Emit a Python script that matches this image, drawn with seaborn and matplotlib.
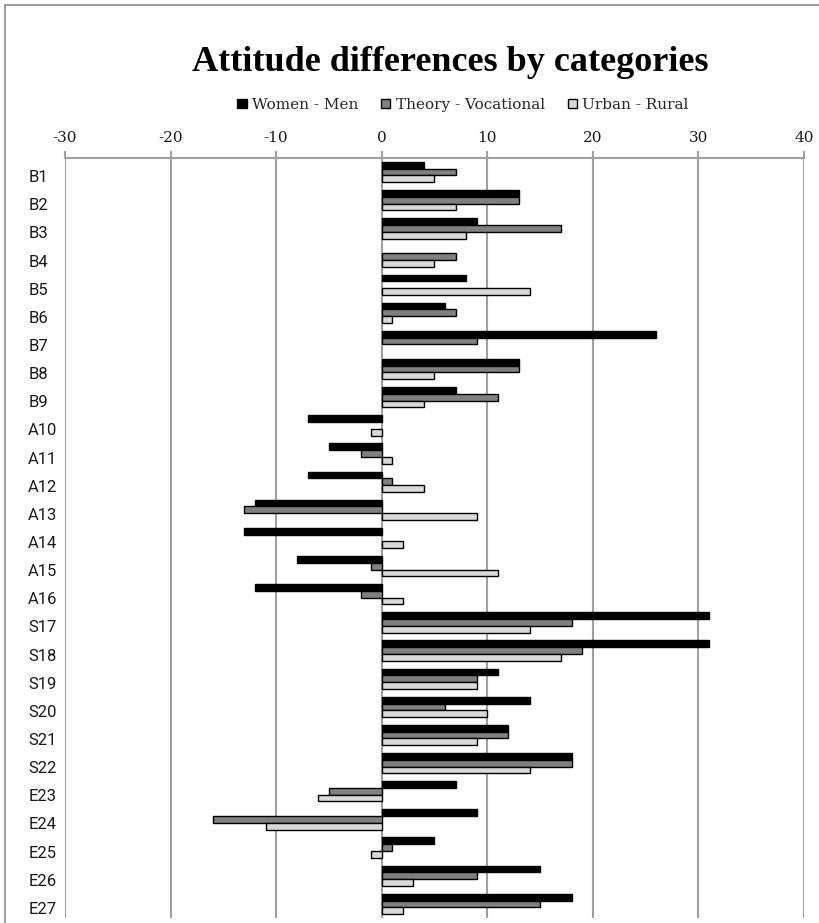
import matplotlib
matplotlib.use("Agg")
import matplotlib.pyplot as plt
import matplotlib.transforms as mtransforms
from matplotlib.patches import Patch, Rectangle
import numpy as np
import pandas as pd
import seaborn as sns

# Data
categories = ["B1", "B2", "B3", "B4", "B5", "B6", "B7", "B8", "B9",
              "A10", "A11", "A12", "A13", "A14", "A15", "A16",
              "S17", "S18", "S19", "S20", "S21", "S22",
              "E23", "E24", "E25", "E26", "E27"]
women_men = [4, 13, 9, 0, 8, 6, 26, 13, 7, -7, -5, -7, -12, -13, -8, -12,
             31, 31, 11, 14, 12, 18, 7, 9, 5, 15, 18]
theory_vocational = [7, 13, 17, 7, 0, 7, 9, 13, 11, 0, -2, 1, -13, 0, -1, -2,
                     18, 19, 9, 6, 12, 18, -5, -16, 1, 9, 15]
urban_rural = [5, 7, 8, 5, 14, 1, 0, 5, 4, -1, 1, 4, 9, 2, 11, 2,
               14, 17, 9, 10, 9, 14, -6, -11, -1, 3, 2]
series_names = ["Women - Men", "Theory - Vocational", "Urban - Rural"]
series_colors = ["#000000", "#808080", "#d9d9d9"]
x_ticks = [-30, -20, -10, 0, 10, 20, 30, 40]

df = pd.DataFrame({
    "category": categories * 3,
    "value": women_men + theory_vocational + urban_rural,
    "series": np.repeat(series_names, len(categories)),
})
# zero-length bars are not drawn in the original (avoid a stray edge line)
df["value"] = df["value"].replace(0, np.nan)

sns.set_style("white")
W, H = 820, 923
fig = plt.figure(figsize=(W / 100, H / 100), dpi=100)
ax = fig.add_axes([65 / W, 1 - 918 / H, (804 - 65) / W, (918 - 158) / H])

sns.barplot(data=df, y="category", x="value", hue="series", order=categories,
            hue_order=series_names, palette=dict(zip(series_names, series_colors)),
            orient="h", width=0.72, edgecolor="black", linewidth=1.0,
            legend=False, ax=ax)

grid_col = "#a0a0a4"
ax.set_xlim(-30, 40)
ax.set_xticks(x_ticks)
ax.set_xticklabels([str(t) for t in x_ticks])
ax.xaxis.tick_top()
ax.xaxis.set_label_position("top")
ax.set_xlabel("")
ax.set_ylabel("")
ax.grid(axis="x", color=grid_col, linewidth=1.5)
ax.set_axisbelow(True)
for side in ["left", "right", "bottom"]:
    ax.spines[side].set_visible(False)
ax.spines["top"].set_color(grid_col)
ax.spines["top"].set_linewidth(1.5)
ax.tick_params(axis="x", direction="out", length=5, width=1.5, color=grid_col,
               pad=4, labelsize=11, labelcolor="#1a1a1a")
for lab in ax.get_xticklabels():
    lab.set_family(["DejaVu Serif"])

ax.tick_params(axis="y", length=0, pad=26.5, labelsize=12, labelcolor="#1a1a1a")
offset = mtransforms.ScaledTranslation(0, -4 / 100, fig.dpi_scale_trans)
for lab in ax.get_yticklabels():
    lab.set_family(["Roboto", "DejaVu Sans"])
    lab.set_horizontalalignment("left")
    lab.set_transform(lab.get_transform() + offset)

fig.text(450.5 / W, 1 - 71 / H, "Attitude differences by categories",
         ha="center", va="baseline", fontsize=26, fontweight="bold",
         family=["Liberation Serif"], color="black")

handles = [Patch(facecolor=c, edgecolor="black", linewidth=1.0) for c in series_colors]
fig.legend(handles, series_names, loc="center", bbox_to_anchor=(463 / W, 1 - 105 / H),
           ncol=3, frameon=False, handlelength=0.6, handleheight=0.6,
           handletextpad=0.35, columnspacing=1.5,
           prop={"family": "DejaVu Serif", "size": 11})

# outer chart frame (left and top edges visible)
fig.patches.append(Rectangle((5 / W, -0.5), 2, 1.5 - 5 / H, transform=fig.transFigure,
                             fill=False, edgecolor="#8c8c8c", linewidth=1.2))

fig.savefig("out.png", dpi=100)
